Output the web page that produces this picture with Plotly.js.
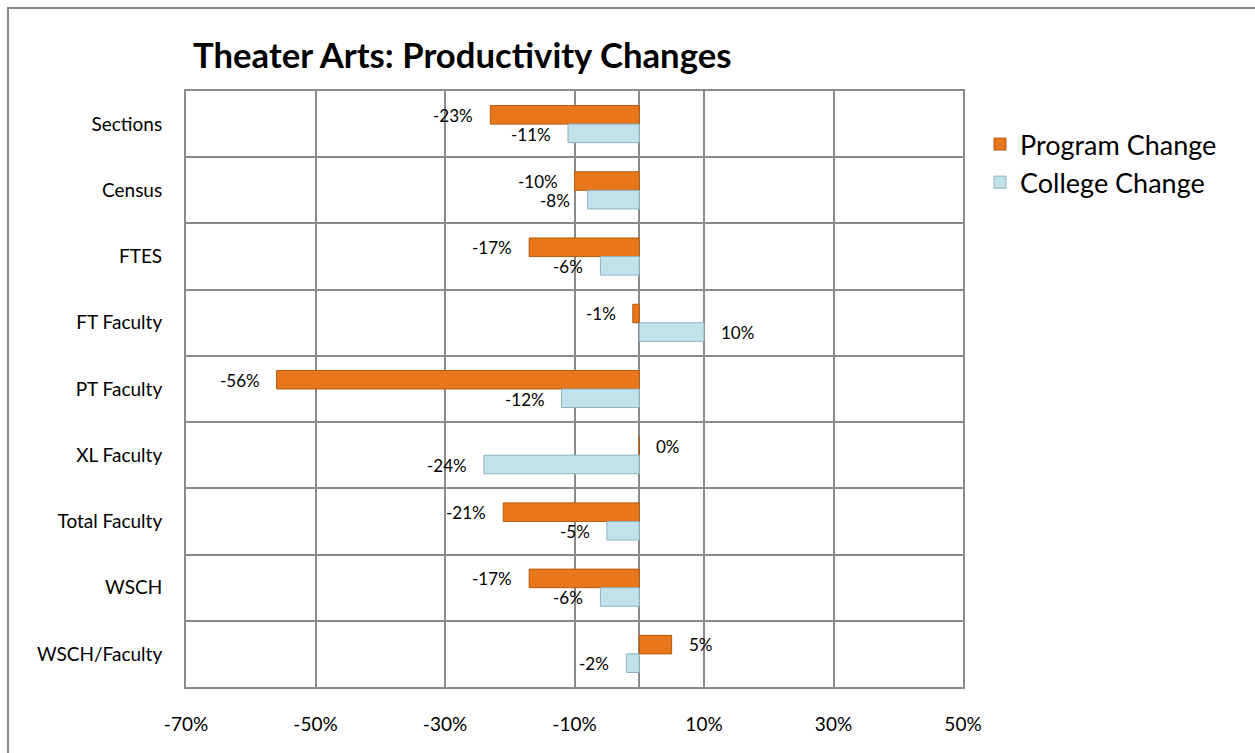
<!DOCTYPE html>
<html>
<head>
<meta charset="utf-8">
<script src="https://cdn.plot.ly/plotly-3.0.1.min.js"></script>
<style>
  html, body { margin: 0; padding: 0; background: #fff; }
  #frame { position: absolute; left: 7px; top: 7px; width: 1260px; height: 760px;
           border-left: 2px solid #878787; border-top: 2px solid #878787; }
  #chart { position: absolute; left: 0; top: 0; width: 1255px; height: 753px; }
</style>
</head>
<body>
<div id="frame"></div>
<div id="chart"></div>
<script>
const categories = ["Sections", "Census", "FTES", "FT Faculty", "PT Faculty", "XL Faculty", "Total Faculty", "WSCH", "WSCH/Faculty"];
const programChange = [-23, -10, -17, -1, -56, 0, -21, -17, 5];
const collegeChange = [-11, -8, -6, 10, -12, -24, -5, -6, -2];
const xTickVals = [-70, -50, -30, -10, 10, 30, 50];
const xTickText = ["-70%", "-50%", "-30%", "-10%", "10%", "30%", "50%"];
const seriesNames = ["Program Change", "College Change"];

const FONT = "Lato, 'Open Sans', sans-serif";
const gridColor = "#8a8a8a";

const traces = [
  {
    type: "bar", orientation: "h", name: seriesNames[0],
    y: categories, x: programChange,
    marker: { color: "#E8761B", line: { color: "#B35A0F", width: 1 } },
    hoverinfo: "skip", legendgroup: "a"
  },
  {
    type: "bar", orientation: "h", name: seriesNames[1],
    y: categories, x: collegeChange,
    marker: { color: "#C2E2EB", line: { color: "#8DB3BE", width: 1 } },
    hoverinfo: "skip", legendgroup: "b"
  },
  // helper invisible trace on overlay axis for category boundary grid lines
  {
    type: "scatter", x: [0], y: [0], yaxis: "y2", mode: "markers",
    marker: { opacity: 0 }, showlegend: false, hoverinfo: "skip"
  }
];

function labelsFor(values, shift) {
  return values.map((v, i) => ({
    x: v, y: categories[i], xref: "x", yref: "y",
    text: v + "%", showarrow: false,
    xanchor: v < 0 ? "right" : "left",
    xshift: v < 0 ? -15 : 15,
    yshift: shift,
    font: { family: FONT, size: 17, color: "#000" }
  }));
}

const boundaries = categories.slice(0, -1).map((c, i) => i + 0.5);

const layout = {
  width: 1255, height: 753,
  paper_bgcolor: "rgba(0,0,0,0)", plot_bgcolor: "#fff",
  margin: { l: 186, r: 292, t: 91, b: 66 },
  title: {
    text: "<b>Theater Arts: Productivity Changes</b>",
    font: { family: FONT, size: 34.7, color: "#000" },
    x: 193 / 1255, xanchor: "left", xref: "container",
    y: 1 - 56 / 753, yanchor: "middle", yref: "container"
  },
  barmode: "group", bargap: 0.44, bargroupgap: 0,
  xaxis: {
    range: [-70, 50], tickvals: xTickVals, ticktext: xTickText,
    showgrid: true, gridcolor: gridColor, gridwidth: 2,
    zeroline: true, zerolinecolor: gridColor, zerolinewidth: 2,
    showline: true, linecolor: gridColor, linewidth: 2, mirror: true,
    ticks: "", ticklabelstandoff: 19,
    tickfont: { family: FONT, size: 19, color: "#000" },
    fixedrange: true
  },
  yaxis: {
    type: "category", autorange: "reversed",
    showgrid: false, zeroline: false,
    showline: true, linecolor: gridColor, linewidth: 2, mirror: true,
    ticks: "", ticklabelstandoff: 18,
    tickfont: { family: FONT, size: 19, color: "#000" },
    fixedrange: true
  },
  yaxis2: {
    overlaying: "y", range: [categories.length - 0.5, -0.5],
    tickvals: boundaries, showticklabels: false,
    showgrid: true, gridcolor: gridColor, gridwidth: 2,
    zeroline: false, showline: false, ticks: "", fixedrange: true
  },
  legend: {
    x: 980 / 1255, xref: "container", xanchor: "left",
    y: 1 - 120 / 753, yref: "container", yanchor: "top",
    font: { family: FONT, size: 27, color: "#000" },
    tracegroupgap: 11, traceorder: "normal",
    bgcolor: "rgba(0,0,0,0)"
  },
  annotations: labelsFor(programChange, 9).concat(labelsFor(collegeChange, -10)),
  showlegend: true
};

Plotly.newPlot("chart", traces, layout, { displayModeBar: false, staticPlot: true });
</script>
</body>
</html>
